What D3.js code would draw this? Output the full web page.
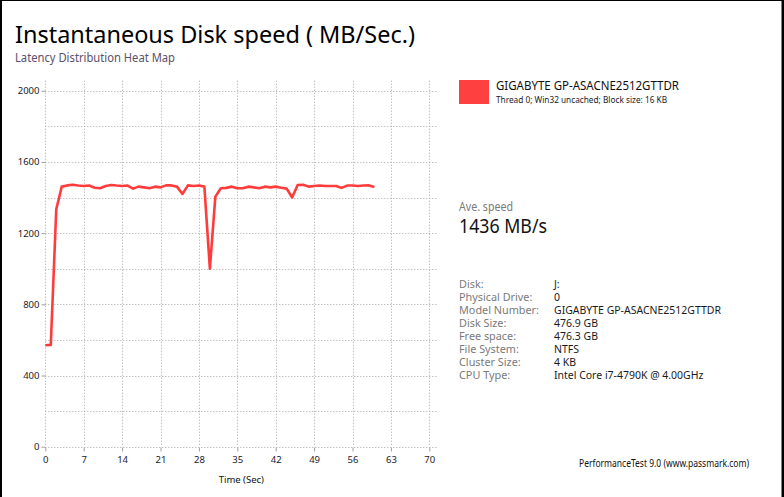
<!DOCTYPE html>
<html><head><meta charset="utf-8">
<script src="https://cdn.jsdelivr.net/npm/d3@7/dist/d3.min.js"></script>
<style>
html,body{margin:0;padding:0;background:#fff;}
svg{display:block;font-family:"Noto Sans","Open Sans",sans-serif;}
</style></head>
<body><svg id="c" width="784" height="497"></svg>
<script>
// ---- data ----
const times = d3.range(0, 61);
const speeds = [570,572,1334,1461,1468,1472,1467,1465,1467,1455,1452,1465,1470,1467,1465,1467,1450,1461,1457,1452,
  1461,1457,1468,1468,1461,1420,1468,1465,1467,1461,1000,1405,1452,1454,1461,1452,1452,1461,1457,1452,
  1461,1457,1461,1455,1450,1400,1470,1472,1461,1465,1467,1465,1465,1465,1454,1467,1467,1465,1467,1468,1459];
const xTicks = [0,7,14,21,28,35,42,49,56,63,70];
const yGrid = d3.range(0, 2001, 200);
const yLabels = [0,400,800,1200,1600,2000];
const seriesName = "GIGABYTE GP-ASACNE2512GTTDR";
const seriesSub = "Thread 0; Win32 uncached; Block size: 16 KB";
const avgSpeed = "1436 MB/s";
const infoLabels = ["Disk:","Physical Drive:","Model Number:","Disk Size:","Free space:","File System:","Cluster Size:","CPU Type:"];
const infoValues = ["J:","0","GIGABYTE GP-ASACNE2512GTTDR","476.9 GB","476.3 GB","NTFS","4 KB","Intel Core i7-4790K @ 4.00GHz"];

const svg = d3.select("#c");
// frame
svg.append("rect").attr("x",0).attr("y",0).attr("width",2).attr("height",497).attr("fill","#000");
svg.append("rect").attr("x",0).attr("y",0).attr("width",784).attr("height",1).attr("fill","#000");
svg.append("rect").attr("x",781.5).attr("y",0).attr("width",2.5).attr("height",497).attr("fill","#000");

// titles
svg.append("text").attr("x",15).attr("y",42.5).attr("font-size",24).attr("fill","#000")
  .attr("textLength",400).attr("lengthAdjust","spacingAndGlyphs").text("Instantaneous Disk speed ( MB/Sec.)");
svg.append("text").attr("x",15).attr("y",61.5).attr("font-size",12).attr("fill","#5c5068")
  .attr("textLength",160).attr("lengthAdjust","spacingAndGlyphs").text("Latency Distribution Heat Map");

// scales
const x = d3.scaleLinear().domain([0,70]).range([45.3,429.3]);
const y = d3.scaleLinear().domain([0,2000]).range([446.7,90.7]);
const plotL = x(0), plotR = x(70)+9, plotT = y(2000)-10, plotB = y(0);

const g = svg.append("g");
g.selectAll(".hg").data(yGrid).join("line")
  .attr("x1",plotL).attr("x2",plotR).attr("y1",d=>Math.round(y(d))+0.5).attr("y2",d=>Math.round(y(d))+0.5)
  .attr("stroke","#a8a8a8").attr("stroke-width",1).attr("stroke-dasharray","1,2");
g.selectAll(".vg").data(xTicks).join("line")
  .attr("x1",d=>Math.round(x(d))+0.5).attr("x2",d=>Math.round(x(d))+0.5).attr("y1",plotT).attr("y2",plotB)
  .attr("stroke","#a8a8a8").attr("stroke-width",1).attr("stroke-dasharray","1,2");

// axes
const yAxis = d3.axisLeft(y).tickValues(yLabels).tickFormat(d3.format("d")).tickSize(4).tickPadding(2);
const ya = svg.append("g").attr("transform",`translate(${Math.round(plotL)+0.5},0)`).call(yAxis);
ya.select(".domain").remove();
ya.selectAll(".tick line").attr("stroke","#a0a0a0");
ya.selectAll(".tick text").attr("font-size",9.5).attr("fill","#1a1a2a").attr("font-family","Noto Sans");

const xAxis = d3.axisBottom(x).tickValues(xTicks).tickFormat(d3.format("d")).tickSize(4).tickPadding(5);
const xa = svg.append("g").attr("transform",`translate(0,${Math.round(plotB)+0.5})`).call(xAxis);
xa.select(".domain").remove();
xa.selectAll(".tick line").attr("stroke","#a0a0a0");
xa.selectAll(".tick text").attr("font-size",9.5).attr("fill","#1a1a2a").attr("font-family","Noto Sans");

svg.append("text").attr("x",(x(0)+x(70))/2+4).attr("y",483).attr("text-anchor","middle")
  .attr("font-size",9.5).attr("fill","#111").text("Time (Sec)");

// line
const line = d3.line().x((d,i)=>x(times[i])).y(d=>y(d));
svg.append("path").datum(speeds).attr("d",line).attr("fill","none")
  .attr("stroke","#ff3c3c").attr("stroke-width",2.6).attr("stroke-linejoin","round");

// legend
svg.append("rect").attr("x",459).attr("y",80).attr("width",30).attr("height",24).attr("fill","#ff4040");
svg.append("text").attr("x",496).attr("y",89.5).attr("font-size",12).attr("fill","#111")
  .attr("textLength",183).attr("lengthAdjust","spacingAndGlyphs").text(seriesName);
svg.append("text").attr("x",496).attr("y",102.5).attr("font-size",9.5).attr("fill","#1a1a2a")
  .attr("textLength",171).attr("lengthAdjust","spacingAndGlyphs").text(seriesSub);

// average
svg.append("text").attr("x",459).attr("y",211).attr("font-size",12).attr("fill","#7a7a7a")
  .attr("textLength",54).attr("lengthAdjust","spacingAndGlyphs").text("Ave. speed");
svg.append("text").attr("x",459).attr("y",233).attr("font-size",20).attr("fill","#111")
  .attr("textLength",88).attr("lengthAdjust","spacingAndGlyphs").text(avgSpeed);

// info table
const rows = svg.append("g");
const labT = [], valT = [];
infoLabels.forEach((lab,i)=>{
  labT.push(rows.append("text").attr("x",459).attr("y",287.5+i*13).attr("font-size",11).attr("fill","#7a7a7a").text(lab));
  valT.push(rows.append("text").attr("x",554).attr("y",287.5+i*13).attr("font-size",11).attr("fill","#1a1a1a").text(infoValues[i]));
});
const labF = 80 / labT[2].node().getComputedTextLength();
const valF = 167 / valT[2].node().getComputedTextLength();
labT.forEach(t=>t.attr("textLength",t.node().getComputedTextLength()*labF).attr("lengthAdjust","spacingAndGlyphs"));
valT.forEach(t=>t.attr("textLength",t.node().getComputedTextLength()*valF).attr("lengthAdjust","spacingAndGlyphs"));

// footer
svg.append("text").attr("x",579).attr("y",467).attr("font-size",10.5).attr("fill","#111")
  .attr("textLength",170).attr("lengthAdjust","spacingAndGlyphs").text("PerformanceTest 9.0 (www.passmark.com)");
</script></body></html>
